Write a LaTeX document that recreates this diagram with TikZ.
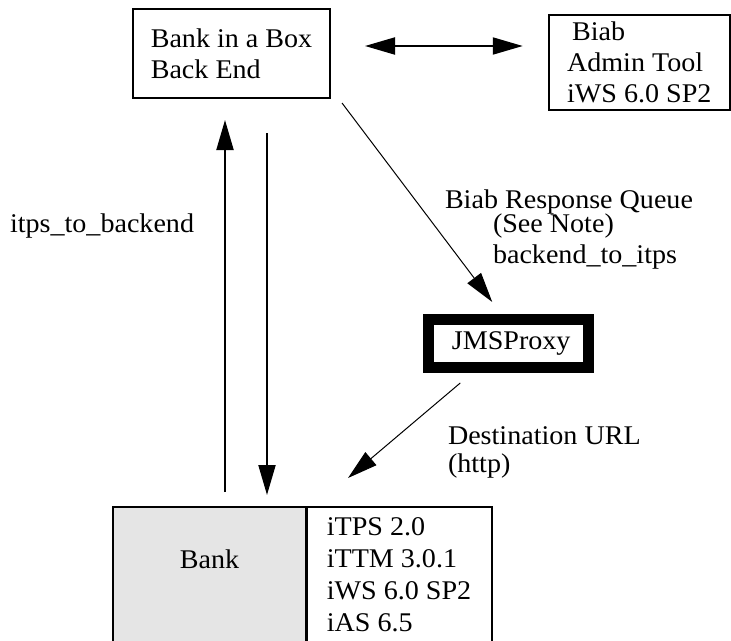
\documentclass[tikz,border=0pt]{standalone}
\usepackage{fontspec}
\setmainfont{Liberation Serif}[FakeStretch=1.04]
\usepackage{tikz}
\usetikzlibrary{arrows.meta,positioning,calc}
\definecolor{bankgray}{RGB}{229,229,229}

\begin{document}
\begin{tikzpicture}[x=1pt, y=-1pt, font=\fontsize{27}{31}\selectfont,
  every node/.style={outer sep=0pt},
  block/.style={draw, line width=1.3pt, inner sep=0pt, align=left},
  txt/.style={inner sep=0pt, anchor=base west},
  >={Triangle[length=30pt,width=17pt]}]
\useasboundingbox (0,0) rectangle (731,640);
\node[block, minimum width=197, minimum height=89] (backend) at (231.5,53.5) {Bank in a Box\\Back End};
\node[block, line width=1.7pt, minimum width=181, minimum height=95] (admin) at (639.25,62.5) {\hspace*{5pt}Biab\\Admin Tool\\iWS 6.0 SP2};
\node[block, line width=11pt, minimum width=159.5, minimum height=48.5] (jms) at (508.25,343.25) {\hspace*{6pt}JMSProxy};
\node[block, fill=bankgray, minimum width=193, minimum height=135, text depth=31pt] (bank) at (209.5,574.5) {Bank};
\node[block, font=\fontsize{27}{32}\selectfont, minimum width=186, minimum height=135] (bankinfo) at (399,574.5) {iTPS 2.0\\iTTM 3.0.1\\iWS 6.0 SP2\\iAS 6.5};
\draw[line width=3pt] (bank.north east) -- (bank.south east);

\coordinate (upx) at (225,0);
\coordinate (dnx) at (267,0);
\coordinate (dbl) at (0,46);
\draw[->, line width=2pt, shorten <=15pt, shorten >=22pt] (bank.north -| upx) -- (backend.south -| upx);
\draw[->, line width=2pt, shorten <=35pt, shorten >=12pt] (backend.south -| dnx) -- (bank.north -| dnx);
\draw[<->, line width=2pt, shorten <=35pt, shorten >=26pt] (backend.east |- dbl) -- (admin.west |- dbl);
\draw[->, line width=1pt] ([xshift=12pt,yshift=-5pt]backend.south east) -- ([xshift=-16pt,yshift=17pt]jms.north);
\draw[->, line width=1pt] ([xshift=-48pt,yshift=-15.5pt]jms.south) -- ([xshift=42pt,yshift=29pt]bankinfo.north west);

\node[txt] (lup) at (10,232) {itps\_to\_backend};
\node[txt] (lq1) at (445,208) {Biab Response Queue};
\node[txt] (lq2) at (493,232) {(See Note)};
\node[txt] (lq3) at (493,263) {backend\_to\_itps};
\node[txt] (ld1) at (448,444) {Destination URL};
\node[txt] (ld2) at (448,472) {(http)};
\end{tikzpicture}
\end{document}
